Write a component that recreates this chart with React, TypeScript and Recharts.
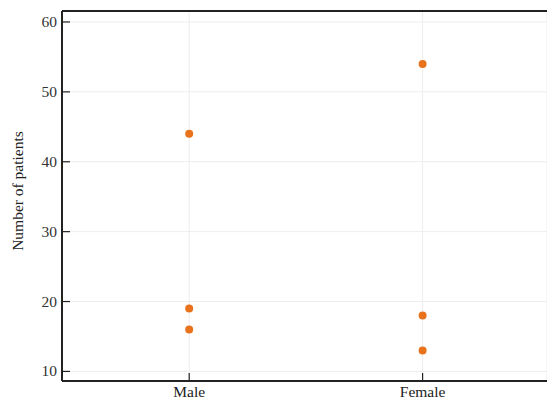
import React from "react";
import { CartesianGrid, ReferenceLine, Scatter, ScatterChart, XAxis, YAxis } from "recharts";

const groups = ["Male", "Female"];
const maleCounts = [44, 19, 16];
const femaleCounts = [54, 18, 13];
const yTicks = [10, 20, 30, 40, 50, 60];

const points = [
  ...maleCounts.map((v) => ({ g: 0, v })),
  ...femaleCounts.map((v) => ({ g: 1, v })),
];

const FONT = "'Liberation Serif', 'Times New Roman', serif";
const AXIS = "#222";

function YTick(props: any) {
  const { x, y, payload } = props;
  return (
    <g>
      <line x1={x + 5} x2={x + 13} y1={y} y2={y} stroke={AXIS} strokeWidth={1.2} />
      <text x={x} y={y} dy={5} textAnchor="end" fontFamily={FONT} fontSize={15.5} fill="#333">
        {payload.value}
      </text>
    </g>
  );
}

function XTick(props: any) {
  const { x, y, payload } = props;
  return (
    <g>
      <line x1={x} x2={x} y1={y - 1} y2={y - 8} stroke={AXIS} strokeWidth={1.2} />
      <text x={x} y={y} dy={16} textAnchor="middle" fontFamily={FONT} fontSize={15.5} fill="#222">
        {groups[payload.value]}
      </text>
    </g>
  );
}

export default function App() {
  return (
    <div style={{ position: "absolute", left: 0, top: 0, background: "#fff" }}>
      <ScatterChart width={547} height={406} margin={{ top: 11, right: 0, bottom: 0, left: 0 }}>
        <CartesianGrid stroke="#ededed" strokeWidth={1} />
        <XAxis
          type="number"
          dataKey="g"
          domain={[-0.545, 1.533]}
          ticks={[0, 1]}
          height={25}
          tickSize={0}
          tickMargin={0}
          tickLine={false}
          axisLine={{ stroke: AXIS, strokeWidth: 2 }}
          tick={<XTick />}
        />
        <YAxis
          type="number"
          dataKey="v"
          domain={[8.63, 61.57]}
          ticks={yTicks}
          width={62}
          tickSize={0}
          tickMargin={5}
          tickLine={false}
          axisLine={{ stroke: AXIS, strokeWidth: 2 }}
          tick={<YTick />}
          label={{
            value: "Number of patients",
            angle: -90,
            position: "insideLeft",
            dx: 12,
            dy: -5,
            style: { textAnchor: "middle", fontFamily: FONT, fontSize: 15.5, fill: "#222" },
          }}
        />
        <ReferenceLine y={61.57} stroke={AXIS} strokeWidth={2} />
        <Scatter
          data={points}
          fill="#e8731c"
          isAnimationActive={false}
          shape={(p: any) => <circle cx={p.cx} cy={p.cy} r={4} fill="#e8731c" />}
        />
      </ScatterChart>
    </div>
  );
}
